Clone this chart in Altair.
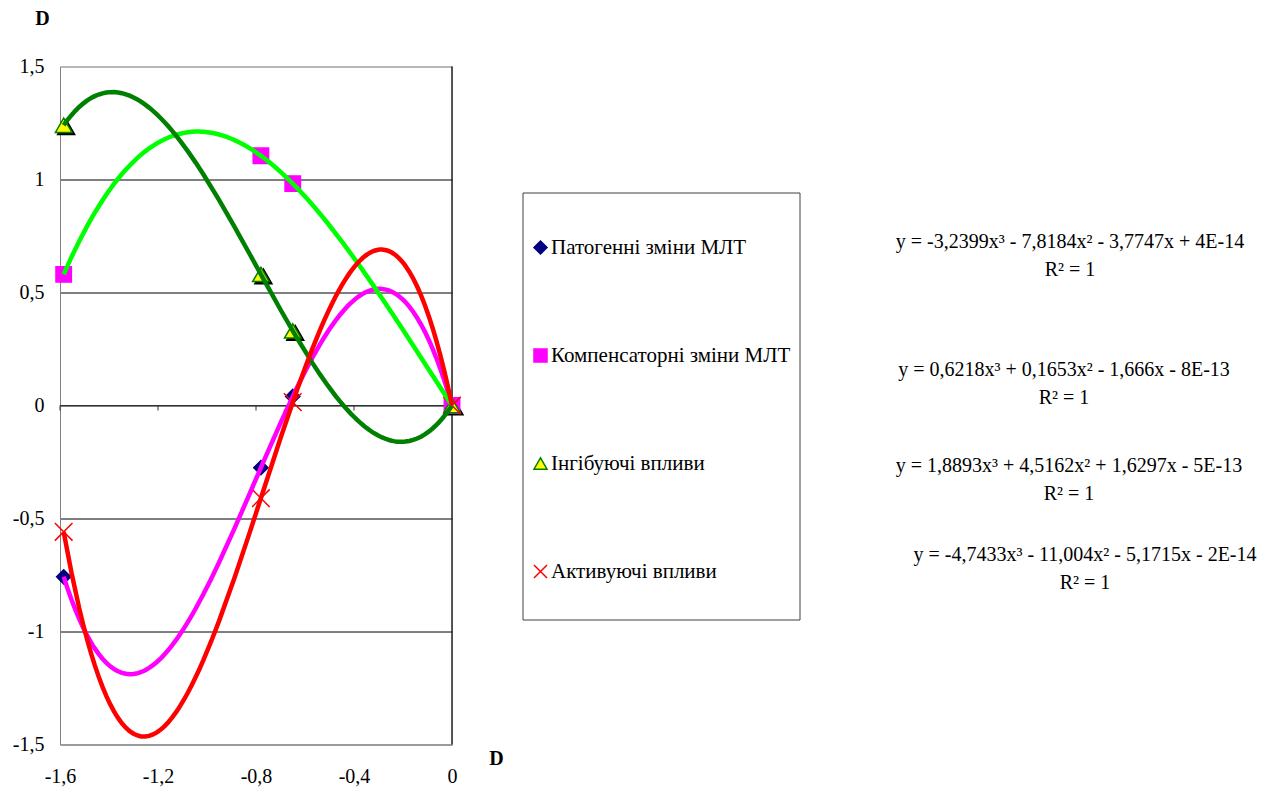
import altair as alt
import pandas as pd

SERIES = ["Патогенні зміни МЛТ", "Компенсаторні зміни МЛТ", "Інгібуючі впливи", "Активуючі впливи"]
X_VALUES = [-1.585, -0.78, -0.65, 0.0]
Y_PATOHENNI = [-0.758, -0.275, 0.040, 0.0]
Y_KOMPENS = [0.580, 1.105, 0.982, 0.0]
Y_INHIB = [1.240, 0.580, 0.330, 0.0]
Y_AKTYV = [-0.559, -0.410, 0.015, 0.0]

POINT_FILL = ["#000080", "#FF00FF", "#FFFF00", "#FF0000"]
POINT_STROKE = ["#000080", "#FF00FF", "#008000", "#FF0000"]
SHAPES = ["diamond", "square", "triangle-up", "M-1,-1L1,1M-1,1L1,-1"]
SIZES = [200, 310, 260, 290]
LINE_COLORS = ["#FF00FF", "#00FF00", "#008000", "#FF0000"]

EQUATIONS = [
    "y = -3,2399x³ - 7,8184x² - 3,7747x + 4E-14",
    "y = 0,6218x³ + 0,1653x² - 1,666x - 8E-13",
    "y = 1,8893x³ + 4,5162x² + 1,6297x - 5E-13",
    "y = -4,7433x³ - 11,004x² - 5,1715x - 2E-14",
]
R2_TEXT = "R² = 1"
X_TICKS = [-1.6, -1.2, -0.8, -0.4, 0]
Y_TICKS = [-1.5, -1, -0.5, 0, 0.5, 1, 1.5]

FONT = "Liberation Serif, Times New Roman, serif"
FS = 20

rows = []
for s, ys in zip(SERIES, [Y_PATOHENNI, Y_KOMPENS, Y_INHIB, Y_AKTYV]):
    for xv, yv in zip(X_VALUES, ys):
        rows.append({"series": s, "x": xv, "y": yv})
df = pd.DataFrame(rows)
ticks_df = pd.DataFrame({"v": X_TICKS})

PLOT_X0, PLOT_Y0 = 60, 66.5
W, H = 392, 678

comma = "replace(toString(datum.value), '.', ',')"

x_enc = alt.X(
    "x:Q",
    scale=alt.Scale(domain=[-1.6, 0], nice=False, zero=False),
    axis=alt.Axis(
        values=X_TICKS, labelExpr=comma, ticks=False, grid=False,
        domainColor="#808080", labelFont=FONT, labelFontSize=FS, labelColor="black",
        labelPadding=22, title="D", titleFont=FONT, titleFontSize=FS, titleFontWeight="bold",
        titleColor="black", titleX=496 - PLOT_X0, titleY=758.5 - (PLOT_Y0 + H),
        titleAlign="center", titleBaseline="middle", labelFlush=False,
    ),
)
y_enc = alt.Y(
    "y:Q",
    scale=alt.Scale(domain=[-1.5, 1.5], nice=False, zero=False),
    axis=alt.Axis(
        values=Y_TICKS, labelExpr=comma, ticks=False, grid=True,
        gridColor={"condition": {"test": "abs(datum.value) > 1.4", "value": "#808080"}, "value": "black"},
        gridWidth=1, domainColor="#808080", labelFont=FONT, labelFontSize=FS,
        labelColor="black", labelPadding=16, title="D", titleFont=FONT, titleFontSize=FS,
        titleFontWeight="bold", titleColor="black", titleAngle=0,
        titleX=42 - PLOT_X0, titleY=18 - PLOT_Y0, titleAlign="center", titleBaseline="middle",
        labelFlush=False,
    ),
)

legend = alt.Legend(
    orient="none", legendX=470, legendY=170.5, title=None, padding=0,
    labelFont=FONT, labelFontSize=21, labelColor="black", rowPadding=86,
    symbolSize=170, labelOffset=0, symbolStrokeWidth=1.5, labelLimit=400,
)

base = alt.Chart(df)

shadow = base.transform_filter(alt.datum.series == SERIES[2]).mark_point(
    shape="triangle-up", filled=True, fill="black", stroke="black", size=SIZES[2],
    xOffset=2.5, yOffset=2, opacity=1,
).encode(x=x_enc, y=y_enc)

points = base.transform_calculate(sz="datum.series").mark_point(
    filled=True, opacity=1, strokeWidth=1.5
).encode(
    x=x_enc,
    y=y_enc,
    fill=alt.Fill("series:N", scale=alt.Scale(domain=SERIES, range=POINT_FILL), legend=legend),
    stroke=alt.Stroke("series:N", scale=alt.Scale(domain=SERIES, range=POINT_STROKE), legend=legend),
    shape=alt.Shape("series:N", scale=alt.Scale(domain=SERIES, range=SHAPES), legend=legend),
    size=alt.Size("sz:N", scale=alt.Scale(range=SIZES), sort=SERIES, legend=None),
)

lines = []
for s, c in zip(SERIES, LINE_COLORS):
    lines.append(
        base.transform_filter(alt.datum.series == s)
        .transform_regression("x", "y", method="poly", order=3)
        .mark_line(color=c, strokeWidth=4.5)
        .encode(x="x:Q", y="y:Q")
    )

one = alt.Data(values=[{"k": 1}])
right_border = alt.Chart(one).mark_rule(color="#202020", strokeWidth=1.5).encode(x=alt.datum(0))
zero_axis = alt.Chart(one).mark_rule(color="#303030", strokeWidth=1.2).encode(y=alt.datum(0))
zero_ticks = alt.Chart(ticks_df).mark_rule(color="#303030", strokeWidth=1).encode(
    x="v:Q", y=alt.value(H / 2), y2=alt.value(H / 2 + 5)
)

legend_box = alt.Chart(one).mark_rect(fill="transparent", stroke="#404040", strokeWidth=1).encode(
    x=alt.value(523 - PLOT_X0), x2=alt.value(800 - PLOT_X0),
    y=alt.value(193 - PLOT_Y0), y2=alt.value(620 - PLOT_Y0),
)

EQ_POS = [(1070, 242, 270), (1064, 370, 398), (1069, 466, 494), (1085, 555, 583)]
texts = []
for eq, (cx, y1, y2) in zip(EQUATIONS, EQ_POS):
    for t, yy in ((eq, y1), (R2_TEXT, y2)):
        texts.append(
            alt.Chart(one).mark_text(font=FONT, fontSize=FS, align="center", baseline="middle", color="black")
            .encode(x=alt.value(cx - PLOT_X0), y=alt.value(yy - PLOT_Y0), text=alt.value(t))
        )

chart = alt.layer(
    right_border, zero_axis, zero_ticks, shadow, points, *lines, legend_box, *texts
).properties(
    width=W, height=H,
    autosize=alt.AutoSizeParams(type="none"),
    padding={"left": PLOT_X0 - 8, "top": PLOT_Y0 - 8, "right": 1262 - PLOT_X0 - W, "bottom": 787 - PLOT_Y0 - H},
).configure_view(stroke="#808080", strokeWidth=1).configure(background="white")

chart.save("out.html", embed_options={"renderer": "svg", "actions": False})
